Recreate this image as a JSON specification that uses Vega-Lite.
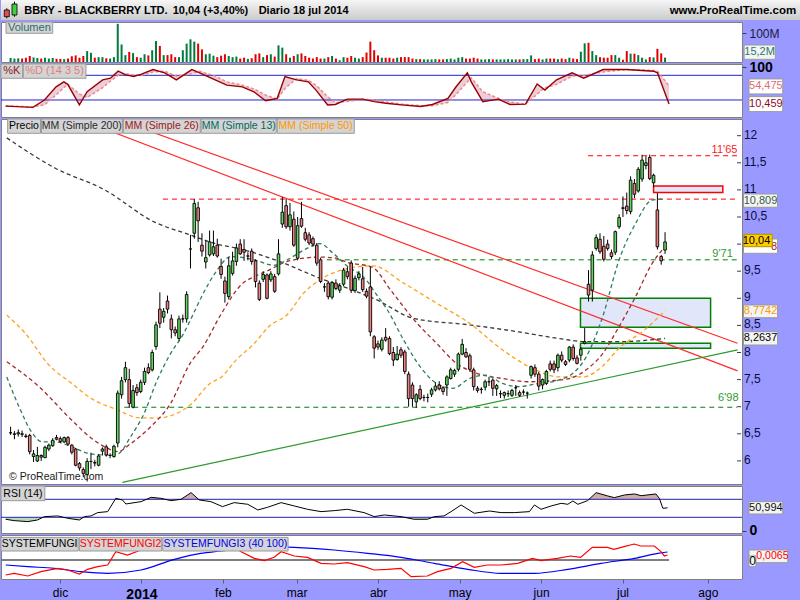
{
"$schema": "https://vega.github.io/schema/vega-lite/v6.json",
"background": "#9999ff",
"padding": 0,
"spacing": 2,
"bounds": "flush",
"config": {
 "font": "Liberation Sans",
 "view": {"fill": "#ffffff", "stroke": "#808080", "strokeWidth": 1},
 "axis": {"grid": false, "domain": false, "tickSize": 4, "tickColor": "#3a3a5a", "labelColor": "#0c0c3c", "labelFontSize": 12, "labelPadding": 3, "labelFlush": false, "labelOverlap": false}
},
"datasets": {
 "ohlc": [
{"i":1,"o":6.52,"h":6.63,"l":6.48,"c":6.52,"v":14},{"i":2,"o":6.49,"h":6.55,"l":6.40,"c":6.50,"v":12},{"i":3,"o":6.50,"h":6.58,"l":6.45,"c":6.52,"v":13},{"i":4,"o":6.50,"h":6.56,"l":6.44,"c":6.49,"v":12},{"i":5,"o":6.46,"h":6.50,"l":6.42,"c":6.45,"v":15},
{"i":6,"o":6.47,"h":6.50,"l":6.12,"c":6.17,"v":21},{"i":7,"o":6.08,"h":6.20,"l":5.98,"c":6.13,"v":16},{"i":8,"o":6.00,"h":6.26,"l":5.98,"c":6.10,"v":14},{"i":9,"o":6.10,"h":6.12,"l":6.00,"c":6.07,"v":12},{"i":10,"o":6.06,"h":6.28,"l":6.05,"c":6.25,"v":15},
{"i":11,"o":6.22,"h":6.32,"l":6.18,"c":6.29,"v":12},{"i":12,"o":6.28,"h":6.42,"l":6.26,"c":6.38,"v":14},{"i":13,"o":6.43,"h":6.48,"l":6.38,"c":6.40,"v":11},{"i":14,"o":6.41,"h":6.45,"l":6.33,"c":6.36,"v":11},{"i":15,"o":6.35,"h":6.45,"l":6.33,"c":6.43,"v":10},
{"i":16,"o":6.43,"h":6.46,"l":6.28,"c":6.31,"v":12},{"i":17,"o":6.29,"h":6.31,"l":6.12,"c":6.16,"v":20},{"i":18,"o":6.22,"h":6.24,"l":5.90,"c":5.92,"v":23},{"i":19,"o":5.95,"h":5.98,"l":5.82,"c":5.87,"v":15},{"i":20,"o":5.84,"h":5.88,"l":5.70,"c":5.77,"v":21},
{"i":21,"o":5.75,"h":6.05,"l":5.62,"c":5.99,"v":38},{"i":22,"o":5.99,"h":6.15,"l":5.85,"c":5.99,"v":32},{"i":23,"o":5.97,"h":6.02,"l":5.90,"c":5.96,"v":15},{"i":24,"o":5.92,"h":6.12,"l":5.90,"c":6.09,"v":17},{"i":25,"o":6.18,"h":6.25,"l":6.10,"c":6.22,"v":17},
{"i":26,"o":6.26,"h":6.30,"l":6.08,"c":6.11,"v":13},{"i":27,"o":6.10,"h":6.14,"l":6.05,"c":6.10,"v":12},{"i":28,"o":6.08,"h":6.30,"l":6.06,"c":6.27,"v":17},{"i":29,"o":6.33,"h":7.30,"l":6.25,"c":7.25,"v":133},{"i":30,"o":7.22,"h":7.55,"l":7.15,"c":7.48,"v":61},
{"i":31,"o":7.50,"h":7.83,"l":7.45,"c":7.72,"v":24},{"i":32,"o":7.50,"h":7.70,"l":6.98,"c":7.06,"v":35},{"i":33,"o":6.99,"h":7.40,"l":6.97,"c":7.30,"v":31},{"i":34,"o":7.35,"h":7.42,"l":7.20,"c":7.26,"v":17},{"i":35,"o":7.28,"h":7.50,"l":7.25,"c":7.45,"v":15},
{"i":36,"o":7.45,"h":7.72,"l":7.40,"c":7.65,"v":27},{"i":37,"o":7.72,"h":7.80,"l":7.60,"c":7.63,"v":23},{"i":38,"o":7.68,"h":8.05,"l":7.65,"c":8.00,"v":41},{"i":39,"o":8.11,"h":8.57,"l":8.05,"c":8.51,"v":73},{"i":40,"o":8.80,"h":9.11,"l":8.45,"c":8.54,"v":56},
{"i":41,"o":8.65,"h":8.82,"l":8.55,"c":8.76,"v":24},{"i":42,"o":8.95,"h":9.05,"l":8.72,"c":8.80,"v":24},{"i":43,"o":8.62,"h":8.70,"l":8.26,"c":8.42,"v":27},{"i":44,"o":8.42,"h":8.48,"l":8.30,"c":8.36,"v":17},{"i":45,"o":8.26,"h":8.68,"l":8.22,"c":8.62,"v":17},
{"i":46,"o":8.62,"h":8.70,"l":8.55,"c":8.62,"v":41},{"i":47,"o":8.62,"h":9.13,"l":8.55,"c":9.07,"v":64},{"i":48,"o":9.91,"h":10.17,"l":9.55,"c":9.91,"v":79},{"i":49,"o":10.20,"h":10.83,"l":10.10,"c":10.75,"v":71},{"i":50,"o":10.67,"h":10.78,"l":10.04,"c":10.43,"v":64},
{"i":51,"o":9.98,"h":10.20,"l":9.77,"c":9.87,"v":44},{"i":52,"o":9.67,"h":10.07,"l":9.55,"c":9.75,"v":27},{"i":53,"o":9.80,"h":10.25,"l":9.77,"c":10.04,"v":29},{"i":54,"o":9.82,"h":10.25,"l":9.78,"c":9.95,"v":22},{"i":55,"o":9.98,"h":10.10,"l":9.75,"c":9.78,"v":17},
{"i":56,"o":9.59,"h":9.73,"l":9.36,"c":9.44,"v":22},{"i":57,"o":9.32,"h":9.40,"l":8.92,"c":9.09,"v":27},{"i":58,"o":9.03,"h":9.76,"l":8.98,"c":9.60,"v":21},{"i":59,"o":9.46,"h":9.86,"l":9.42,"c":9.69,"v":17},{"i":60,"o":9.68,"h":10.01,"l":9.60,"c":9.93,"v":19},
{"i":61,"o":10.00,"h":10.09,"l":9.80,"c":9.82,"v":12},{"i":62,"o":9.90,"h":10.09,"l":9.69,"c":9.85,"v":15},{"i":63,"o":9.78,"h":9.85,"l":9.70,"c":9.78,"v":11},{"i":64,"o":9.87,"h":9.92,"l":9.62,"c":9.68,"v":13},{"i":65,"o":9.69,"h":9.72,"l":9.20,"c":9.31,"v":27},
{"i":66,"o":9.28,"h":9.33,"l":8.95,"c":8.98,"v":30},{"i":67,"o":9.35,"h":9.50,"l":9.30,"c":9.44,"v":17},{"i":68,"o":9.43,"h":9.46,"l":8.98,"c":9.00,"v":24},{"i":69,"o":9.34,"h":9.50,"l":9.30,"c":9.45,"v":27},{"i":70,"o":9.40,"h":9.45,"l":9.10,"c":9.13,"v":19},
{"i":71,"o":9.45,"h":10.09,"l":9.42,"c":9.82,"v":58},{"i":72,"o":10.37,"h":10.87,"l":10.30,"c":10.59,"v":50},{"i":73,"o":10.71,"h":10.83,"l":10.28,"c":10.32,"v":27},{"i":74,"o":10.32,"h":10.76,"l":10.25,"c":10.54,"v":15},{"i":75,"o":10.46,"h":10.60,"l":9.95,"c":9.98,"v":21},
{"i":76,"o":9.74,"h":10.50,"l":9.70,"c":10.34,"v":27},{"i":77,"o":10.47,"h":10.78,"l":10.30,"c":10.33,"v":30},{"i":78,"o":10.21,"h":10.30,"l":10.05,"c":10.09,"v":21},{"i":79,"o":10.17,"h":10.22,"l":9.98,"c":10.02,"v":15},{"i":80,"o":10.10,"h":10.14,"l":9.95,"c":10.00,"v":12},
{"i":81,"o":9.98,"h":10.02,"l":9.60,"c":9.65,"v":17},{"i":82,"o":9.71,"h":9.75,"l":9.28,"c":9.31,"v":12},{"i":83,"o":9.21,"h":9.28,"l":9.12,"c":9.21,"v":12},{"i":84,"o":9.28,"h":9.32,"l":8.98,"c":9.03,"v":17},{"i":85,"o":9.02,"h":9.32,"l":8.98,"c":9.29,"v":21},
{"i":86,"o":9.28,"h":9.35,"l":9.15,"c":9.18,"v":12},{"i":87,"o":9.15,"h":9.28,"l":9.10,"c":9.23,"v":6},{"i":88,"o":9.26,"h":9.56,"l":9.22,"c":9.52,"v":17},{"i":89,"o":9.49,"h":9.58,"l":9.35,"c":9.40,"v":15},{"i":90,"o":9.65,"h":9.70,"l":9.10,"c":9.15,"v":21},
{"i":91,"o":9.14,"h":9.42,"l":9.10,"c":9.37,"v":15},{"i":92,"o":9.38,"h":9.50,"l":9.33,"c":9.45,"v":12},{"i":93,"o":9.36,"h":9.58,"l":9.12,"c":9.16,"v":17},{"i":94,"o":9.13,"h":9.18,"l":9.00,"c":9.04,"v":33},{"i":95,"o":9.21,"h":9.58,"l":8.30,"c":8.38,"v":71},
{"i":96,"o":8.29,"h":8.32,"l":7.89,"c":8.08,"v":41},{"i":97,"o":8.16,"h":8.22,"l":8.05,"c":8.10,"v":23},{"i":98,"o":8.06,"h":8.28,"l":8.02,"c":8.23,"v":15},{"i":99,"o":8.28,"h":8.45,"l":8.20,"c":8.23,"v":15},{"i":100,"o":8.26,"h":8.30,"l":7.95,"c":7.98,"v":15},
{"i":101,"o":8.00,"h":8.10,"l":7.75,"c":7.86,"v":12},{"i":102,"o":7.87,"h":8.12,"l":7.85,"c":7.97,"v":15},{"i":103,"o":8.05,"h":8.10,"l":7.90,"c":7.95,"v":17},{"i":104,"o":8.01,"h":8.05,"l":7.60,"c":7.65,"v":17},{"i":105,"o":7.60,"h":7.65,"l":7.00,"c":7.15,"v":17},
{"i":106,"o":7.40,"h":7.45,"l":7.00,"c":7.15,"v":12},{"i":107,"o":7.09,"h":7.25,"l":6.98,"c":7.22,"v":10},{"i":108,"o":7.32,"h":7.40,"l":7.12,"c":7.15,"v":10},{"i":109,"o":7.17,"h":7.22,"l":7.10,"c":7.17,"v":9},{"i":110,"o":7.17,"h":7.24,"l":7.08,"c":7.17,"v":9},
{"i":111,"o":7.23,"h":7.35,"l":7.18,"c":7.31,"v":9},{"i":112,"o":7.31,"h":7.45,"l":7.28,"c":7.38,"v":10},{"i":113,"o":7.40,"h":7.47,"l":7.30,"c":7.33,"v":9},{"i":114,"o":7.35,"h":7.38,"l":7.22,"c":7.28,"v":9},{"i":115,"o":7.40,"h":7.58,"l":7.20,"c":7.55,"v":10},
{"i":116,"o":7.52,"h":7.72,"l":7.50,"c":7.68,"v":12},{"i":117,"o":7.60,"h":7.70,"l":7.55,"c":7.67,"v":9},{"i":118,"o":7.69,"h":8.00,"l":7.65,"c":7.97,"v":15},{"i":119,"o":7.97,"h":8.25,"l":7.95,"c":8.15,"v":17},{"i":120,"o":8.00,"h":8.08,"l":7.90,"c":7.92,"v":12},
{"i":121,"o":7.94,"h":7.98,"l":7.65,"c":7.69,"v":12},{"i":122,"o":7.68,"h":7.72,"l":7.30,"c":7.37,"v":15},{"i":123,"o":7.34,"h":7.38,"l":7.26,"c":7.30,"v":12},{"i":124,"o":7.32,"h":7.36,"l":7.24,"c":7.32,"v":9},{"i":125,"o":7.36,"h":7.50,"l":7.30,"c":7.46,"v":9},
{"i":126,"o":7.46,"h":7.55,"l":7.38,"c":7.46,"v":10},{"i":127,"o":7.49,"h":7.52,"l":7.20,"c":7.34,"v":9},{"i":128,"o":7.33,"h":7.42,"l":7.20,"c":7.39,"v":9},{"i":129,"o":7.24,"h":7.30,"l":7.16,"c":7.24,"v":9},{"i":130,"o":7.21,"h":7.28,"l":7.15,"c":7.26,"v":9},
{"i":131,"o":7.24,"h":7.30,"l":7.18,"c":7.24,"v":10},{"i":132,"o":7.21,"h":7.33,"l":7.18,"c":7.30,"v":9},{"i":133,"o":7.35,"h":7.40,"l":7.20,"c":7.35,"v":9},{"i":134,"o":7.26,"h":7.30,"l":7.18,"c":7.21,"v":9},{"i":135,"o":7.27,"h":7.32,"l":7.22,"c":7.27,"v":10},
{"i":136,"o":7.25,"h":7.28,"l":7.15,"c":7.25,"v":10},{"i":137,"o":7.58,"h":7.76,"l":7.52,"c":7.74,"v":23},{"i":138,"o":7.72,"h":7.78,"l":7.55,"c":7.60,"v":10},{"i":139,"o":7.60,"h":7.64,"l":7.30,"c":7.38,"v":12},{"i":140,"o":7.40,"h":7.52,"l":7.32,"c":7.50,"v":9},
{"i":141,"o":7.43,"h":7.68,"l":7.40,"c":7.65,"v":12},{"i":142,"o":7.79,"h":7.85,"l":7.65,"c":7.69,"v":12},{"i":143,"o":7.79,"h":7.85,"l":7.62,"c":7.68,"v":12},{"i":144,"o":7.72,"h":7.98,"l":7.65,"c":7.95,"v":10},{"i":145,"o":7.95,"h":8.02,"l":7.82,"c":7.86,"v":12},
{"i":146,"o":7.83,"h":7.86,"l":7.75,"c":7.78,"v":10},{"i":147,"o":7.86,"h":8.12,"l":7.82,"c":8.10,"v":15},{"i":148,"o":8.10,"h":8.15,"l":7.85,"c":7.89,"v":12},{"i":149,"o":7.90,"h":7.95,"l":7.78,"c":7.80,"v":10},{"i":150,"o":7.95,"h":8.10,"l":7.85,"c":8.06,"v":36},
{"i":151,"o":8.17,"h":8.45,"l":8.15,"c":8.20,"v":65},{"i":152,"o":9.26,"h":9.52,"l":8.94,"c":9.06,"v":67},{"i":153,"o":9.15,"h":9.87,"l":8.94,"c":9.80,"v":38},{"i":154,"o":9.92,"h":10.18,"l":9.88,"c":10.12,"v":24},{"i":155,"o":10.09,"h":10.20,"l":9.82,"c":9.86,"v":17},
{"i":156,"o":9.96,"h":10.15,"l":9.68,"c":9.72,"v":15},{"i":157,"o":10.00,"h":10.08,"l":9.88,"c":9.92,"v":15},{"i":158,"o":9.84,"h":9.90,"l":9.72,"c":9.77,"v":24},{"i":159,"o":9.85,"h":10.25,"l":9.80,"c":10.23,"v":24},{"i":160,"o":10.32,"h":10.55,"l":10.28,"c":10.49,"v":15},
{"i":161,"o":10.67,"h":10.88,"l":10.50,"c":10.66,"v":8},{"i":162,"o":10.70,"h":10.95,"l":10.55,"c":10.62,"v":38},{"i":163,"o":10.60,"h":11.25,"l":10.55,"c":11.18,"v":29},{"i":164,"o":11.12,"h":11.20,"l":10.85,"c":10.92,"v":29},{"i":165,"o":10.98,"h":11.42,"l":10.95,"c":11.38,"v":24},
{"i":166,"o":11.20,"h":11.65,"l":11.15,"c":11.55,"v":15},{"i":167,"o":11.45,"h":11.62,"l":11.38,"c":11.50,"v":9},{"i":168,"o":11.60,"h":11.65,"l":11.18,"c":11.21,"v":17},{"i":169,"o":11.13,"h":11.30,"l":11.05,"c":11.27,"v":16},{"i":170,"o":10.63,"h":10.94,"l":9.90,"c":9.95,"v":46},
{"i":171,"o":9.77,"h":9.80,"l":9.62,"c":9.69,"v":30},{"i":172,"o":9.89,"h":10.22,"l":9.82,"c":10.04,"v":15.2}
 ],
 "priceticks": [{"t":6,"label":"6"},{"t":6.5,"label":"6,5"},{"t":7,"label":"7"},{"t":7.5,"label":"7,5"},{"t":8,"label":"8"},{"t":8.5,"label":"8,5"},{"t":9,"label":"9"},{"t":9.5,"label":"9,5"},{"t":10,"label":""},{"t":10.5,"label":"10,5"},{"t":11,"label":"11"},{"t":11.5,"label":"11,5"},{"t":12,"label":"12"}],
 "ma200": [{"i":0,"v":11.96},{"i":12.7,"v":11.40},{"i":25.6,"v":11.00},{"i":38.5,"v":10.41},{"i":47.5,"v":10.18},{"i":56,"v":9.98},{"i":59.8,"v":9.93},{"i":71.2,"v":9.68},{"i":81.8,"v":9.37},{"i":90.4,"v":9.15},{"i":96.4,"v":8.98},{"i":106.3,"v":8.63},{"i":120.9,"v":8.51},{"i":133.8,"v":8.38},{"i":144.1,"v":8.26},{"i":151.3,"v":8.20},{"i":160,"v":8.20},{"i":172,"v":8.26}],
 "ma50": [{"i":0,"v":8.69},{"i":4.9,"v":8.35},{"i":11,"v":7.77},{"i":17,"v":7.43},{"i":22.1,"v":7.15},{"i":29,"v":6.94},{"i":34.2,"v":6.80},{"i":39.3,"v":6.79},{"i":44.5,"v":6.88},{"i":47.9,"v":7.03},{"i":53.1,"v":7.43},{"i":56.1,"v":7.55},{"i":59.9,"v":7.86},{"i":64.7,"v":8.17},{"i":68.5,"v":8.48},{"i":73.3,"v":8.70},{"i":77.5,"v":9.09},{"i":81.8,"v":9.34},{"i":86.1,"v":9.49},{"i":90.4,"v":9.57},{"i":95.6,"v":9.60},{"i":103.7,"v":9.28},{"i":112.3,"v":8.91},{"i":120.9,"v":8.54},{"i":129.5,"v":8.05},{"i":138.1,"v":7.68},{"i":144.1,"v":7.55},{"i":150.6,"v":7.55},{"i":155.7,"v":7.75},{"i":160,"v":8.08},{"i":166.5,"v":8.41},{"i":172,"v":8.77}],
 "ma26": [{"i":0,"v":7.83},{"i":8.4,"v":7.37},{"i":17,"v":6.75},{"i":22.1,"v":6.42},{"i":26.4,"v":6.23},{"i":29,"v":6.17},{"i":32.4,"v":6.32},{"i":37.6,"v":6.63},{"i":42.8,"v":7.06},{"i":47.9,"v":7.80},{"i":51.3,"v":8.11},{"i":56.1,"v":8.72},{"i":61.7,"v":9.28},{"i":64.7,"v":9.40},{"i":68.5,"v":9.52},{"i":73.3,"v":9.68},{"i":81.8,"v":9.76},{"i":86.1,"v":9.74},{"i":88.7,"v":9.67},{"i":95.6,"v":9.57},{"i":100.3,"v":9.15},{"i":107.2,"v":8.54},{"i":112.3,"v":8.17},{"i":117.5,"v":7.80},{"i":122.7,"v":7.62},{"i":129.5,"v":7.52},{"i":136.4,"v":7.46},{"i":144.1,"v":7.49},{"i":148,"v":7.54},{"i":151.4,"v":7.68},{"i":155.7,"v":7.98},{"i":160,"v":8.48},{"i":164.3,"v":9.03},{"i":168.6,"v":9.64},{"i":172,"v":9.95}],
 "ma13": [{"i":0,"v":7.55},{"i":3.2,"v":7.00},{"i":6.7,"v":6.51},{"i":9.3,"v":6.35},{"i":12.7,"v":6.35},{"i":17,"v":6.26},{"i":21.3,"v":6.14},{"i":25.6,"v":6.11},{"i":29,"v":6.13},{"i":32.4,"v":6.45},{"i":35.9,"v":6.88},{"i":39.3,"v":7.49},{"i":42.8,"v":7.98},{"i":46.2,"v":8.35},{"i":48.8,"v":8.72},{"i":50.9,"v":9.03},{"i":54.4,"v":9.46},{"i":58.6,"v":9.77},{"i":64.7,"v":9.71},{"i":69.8,"v":9.61},{"i":73.3,"v":9.71},{"i":77.6,"v":9.89},{"i":81.8,"v":10.01},{"i":85.3,"v":9.83},{"i":88.7,"v":9.61},{"i":93.9,"v":9.34},{"i":96.4,"v":9.09},{"i":99.5,"v":8.78},{"i":103.7,"v":8.23},{"i":108,"v":7.74},{"i":112.3,"v":7.43},{"i":116.6,"v":7.34},{"i":120.9,"v":7.52},{"i":125.2,"v":7.58},{"i":129.5,"v":7.43},{"i":133.8,"v":7.37},{"i":138.1,"v":7.42},{"i":144.1,"v":7.49},{"i":148,"v":7.62},{"i":151.4,"v":7.92},{"i":155.7,"v":8.66},{"i":160,"v":9.71},{"i":164.3,"v":10.38},{"i":168.6,"v":10.81},{"i":172,"v":10.83}],
 "trend": [{"line":"A","kind":"res","i":18.8,"p":12.308},{"line":"A","kind":"res","i":190.95,"p":7.66},{"line":"B","kind":"res","i":28.5,"p":12.308},{"line":"B","kind":"res","i":190.95,"p":8.17},{"line":"C","kind":"sup","i":30.2,"p":5.605},{"line":"C","kind":"sup","i":190.95,"p":8.05}],
 "levels": [{"level":10.83,"from":40.8,"kind":"res"},{"level":11.63,"from":151.9,"kind":"res"},{"level":9.71,"from":83.6,"kind":"sup"},{"level":6.99,"from":30.7,"kind":"sup"}],
 "zones": [{"from":169.0,"to":187.1,"low":10.95,"high":11.07,"kind":"res"},{"from":149.9,"to":183.9,"low":8.465,"high":9.0,"kind":"sup"},{"from":149.9,"to":183.9,"low":8.08,"high":8.17,"kind":"sup"}],
 "stoch": [{"i":1,"k":5,"d":6},{"i":8,"k":2,"d":3},{"i":11,"k":20,"d":8},{"i":14,"k":52,"d":32},{"i":16,"k":64,"d":50},{"i":17,"k":58,"d":58},{"i":20,"k":8,"d":35},{"i":22,"k":40,"d":26},{"i":26,"k":69,"d":50},{"i":28,"k":73,"d":66},{"i":30,"k":90,"d":80},{"i":32,"k":81,"d":84},{"i":34,"k":77,"d":80},{"i":36,"k":83,"d":80},{"i":39,"k":94,"d":88},{"i":42,"k":86,"d":90},{"i":45,"k":69,"d":78},{"i":49,"k":94,"d":84},{"i":51,"k":86,"d":90},{"i":55,"k":69,"d":78},{"i":58,"k":56,"d":64},{"i":62,"k":52,"d":56},{"i":65,"k":40,"d":47},{"i":68,"k":18,"d":32},{"i":71,"k":24,"d":22},{"i":73,"k":77,"d":48},{"i":76,"k":69,"d":72},{"i":79,"k":64,"d":68},{"i":81,"k":44,"d":56},{"i":84,"k":8,"d":28},{"i":86,"k":9,"d":14},{"i":89,"k":22,"d":16},{"i":93,"k":22,"d":22},{"i":96,"k":16,"d":20},{"i":99,"k":12,"d":15},{"i":103,"k":8,"d":10},{"i":108,"k":4,"d":6},{"i":111,"k":9,"d":6},{"i":115,"k":24,"d":14},{"i":117,"k":51,"d":32},{"i":120,"k":86,"d":64},{"i":121,"k":64,"d":74},{"i":124,"k":16,"d":40},{"i":128,"k":22,"d":24},{"i":131,"k":9,"d":15},{"i":135,"k":10,"d":10},{"i":138,"k":59,"d":34},{"i":140,"k":44,"d":50},{"i":143,"k":69,"d":58},{"i":147,"k":86,"d":78},{"i":150,"k":73,"d":80},{"i":155,"k":94,"d":88},{"i":161,"k":94,"d":94},{"i":168,"k":90,"d":92},{"i":169,"k":86,"d":90},{"i":172,"k":10.5,"d":54.5}],
 "rsi": [{"i":1,"v":25.6},{"i":3.2,"v":22.6},{"i":6.7,"v":20.4},{"i":9.2,"v":24},{"i":11,"v":31.5},{"i":14.4,"v":33},{"i":17,"v":27.8},{"i":20,"v":24},{"i":21.3,"v":31.5},{"i":23,"v":33},{"i":24.7,"v":40.4},{"i":27.3,"v":42.6},{"i":29.4,"v":72.2},{"i":31.1,"v":68.5},{"i":32,"v":59.6},{"i":35.9,"v":64.8},{"i":38.5,"v":74.4},{"i":41,"v":72.2},{"i":43.6,"v":67},{"i":46.2,"v":70},{"i":48.8,"v":84.8},{"i":50.9,"v":68.5},{"i":53.9,"v":64.8},{"i":56.9,"v":53.7},{"i":59.9,"v":62.6},{"i":63.4,"v":58.9},{"i":66,"v":46.3},{"i":68.5,"v":52.2},{"i":72,"v":62.6},{"i":75.4,"v":55.2},{"i":78.8,"v":47.8},{"i":82.3,"v":42.6},{"i":85.7,"v":44.8},{"i":89.1,"v":47.8},{"i":93.4,"v":40.4},{"i":96,"v":31.5},{"i":98.6,"v":35.2},{"i":102.9,"v":31.5},{"i":106.3,"v":25.6},{"i":109.7,"v":25.6},{"i":111.5,"v":31.5},{"i":114,"v":33},{"i":115.8,"v":42.6},{"i":118.4,"v":57.4},{"i":121.8,"v":38.9},{"i":125.7,"v":44},{"i":128.7,"v":40.4},{"i":132.1,"v":40.4},{"i":136,"v":42.6},{"i":137.3,"v":57.4},{"i":139,"v":47.8},{"i":141.6,"v":55.2},{"i":144.2,"v":61.1},{"i":145.9,"v":58.9},{"i":147.2,"v":66.3},{"i":148.5,"v":58.9},{"i":151,"v":67},{"i":153.2,"v":84.8},{"i":156.2,"v":77.4},{"i":157.9,"v":73.7},{"i":160.5,"v":79.6},{"i":163.1,"v":81.9},{"i":164.8,"v":78},{"i":168.6,"v":81.9},{"i":169.5,"v":72.2},{"i":170.4,"v":50},{"i":171.6,"v":51}],
 "rsi_ob": [{"seg":"A","i":29.24,"v":70},{"seg":"A","i":29.4,"v":72.2},{"seg":"A","i":30.4,"v":70},{"seg":"B","i":37.3,"v":70},{"seg":"B","i":38.5,"v":74.4},{"seg":"B","i":41,"v":72.2},{"seg":"B","i":42.1,"v":70},{"seg":"C","i":46.2,"v":70},{"seg":"C","i":48.8,"v":84.8},{"seg":"C","i":50.7,"v":70},{"seg":"D","i":151.37,"v":70},{"seg":"D","i":153.2,"v":84.8},{"seg":"D","i":156.2,"v":77.4},{"seg":"D","i":157.9,"v":73.7},{"seg":"D","i":160.5,"v":79.6},{"seg":"D","i":163.1,"v":81.9},{"seg":"D","i":164.8,"v":78},{"seg":"D","i":168.6,"v":81.9},{"seg":"D","i":169.5,"v":72.2},{"seg":"D","i":169.59,"v":70}],
 "rsi_os": [{"seg":"a","i":1,"v":25.6},{"seg":"a","i":3.2,"v":22.6},{"seg":"a","i":6.7,"v":20.4},{"seg":"a","i":9.2,"v":24},{"seg":"a","i":10.64,"v":30},{"seg":"b","i":15.9,"v":30},{"seg":"b","i":17,"v":27.8},{"seg":"b","i":20,"v":24},{"seg":"b","i":21.0,"v":30},{"seg":"c","i":103.76,"v":30},{"seg":"c","i":106.3,"v":25.6},{"seg":"c","i":109.7,"v":25.6},{"seg":"c","i":111.04,"v":30}],
 "fungi_red": [{"i":1,"v":-0.45},{"i":3.2,"v":-0.40},{"i":6.7,"v":-0.48},{"i":10.1,"v":-0.35},{"i":14.4,"v":-0.25},{"i":17,"v":-0.30},{"i":20,"v":-0.42},{"i":22.1,"v":-0.28},{"i":24.7,"v":-0.20},{"i":27.3,"v":-0.15},{"i":29.4,"v":0.25},{"i":32.4,"v":0.15},{"i":35.9,"v":0.30},{"i":39.3,"v":0.40},{"i":44.5,"v":0.50},{"i":49.6,"v":0.55},{"i":54.8,"v":0.45},{"i":59.9,"v":0.38},{"i":61.7,"v":0.25},{"i":65.1,"v":0.05},{"i":67.7,"v":-0.02},{"i":70.2,"v":0.08},{"i":72,"v":0.25},{"i":75.4,"v":0.12},{"i":78.8,"v":0.08},{"i":82.3,"v":-0.10},{"i":85.7,"v":-0.12},{"i":89.1,"v":-0.08},{"i":93.4,"v":-0.20},{"i":96,"v":-0.30},{"i":99.4,"v":-0.28},{"i":102.9,"v":-0.25},{"i":105.5,"v":-0.50},{"i":109.7,"v":-0.48},{"i":112.3,"v":-0.35},{"i":115.8,"v":-0.25},{"i":118.8,"v":-0.05},{"i":121.8,"v":-0.22},{"i":125.2,"v":-0.15},{"i":128.7,"v":-0.15},{"i":133,"v":-0.10},{"i":136.8,"v":0.05},{"i":139,"v":-0.02},{"i":143.2,"v":0.05},{"i":146.6,"v":0.12},{"i":149.2,"v":0.08},{"i":152.2,"v":0.38},{"i":156.1,"v":0.38},{"i":157.8,"v":0.32},{"i":160.4,"v":0.40},{"i":163,"v":0.48},{"i":164.7,"v":0.42},{"i":168.2,"v":0.42},{"i":169.9,"v":0.25},{"i":170.8,"v":0.12},{"i":171.6,"v":0.15}],
 "fungi_blue": [{"i":1,"v":-0.15},{"i":6.7,"v":-0.20},{"i":13.5,"v":-0.25},{"i":20.4,"v":-0.35},{"i":27.3,"v":-0.40},{"i":35.9,"v":-0.30},{"i":44.5,"v":0.02},{"i":51.3,"v":0.20},{"i":56.5,"v":0.27},{"i":61.7,"v":0.35},{"i":67.7,"v":0.40},{"i":75.4,"v":0.38},{"i":85.7,"v":0.30},{"i":94.3,"v":0.20},{"i":102.9,"v":0.08},{"i":111.5,"v":-0.10},{"i":120.1,"v":-0.28},{"i":128.7,"v":-0.40},{"i":137.3,"v":-0.40},{"i":145.9,"v":-0.28},{"i":154.5,"v":-0.10},{"i":163.1,"v":0.05},{"i":169.1,"v":0.20},{"i":171.6,"v":0.24}]
},
"vconcat": [
 {
  "width": 800, "height": 20,
  "view": {"stroke": null},
  "layer": [
   {"data": {"values": [{}]}, "mark": {"type": "rect", "fill": {"gradient": "linear", "x1": 0, "y1": 0, "x2": 0, "y2": 1, "stops": [{"offset": 0, "color": "#f6f6f6"}, {"offset": 1, "color": "#cbcbcb"}]}},
    "encoding": {"x": {"datum": 0, "type": "quantitative", "scale": {"domain": [0, 1], "nice": false, "zero": false}, "axis": null}, "x2": {"datum": 1}, "y": {"datum": 0, "type": "quantitative", "scale": {"domain": [0, 1], "nice": false, "zero": false}, "axis": null}, "y2": {"datum": 1}}},
   {"data": {"values": [{}]}, "mark": {"type": "rule", "stroke": "#000", "strokeWidth": 1}, "encoding": {"x": {"datum": 0.00725, "axis": null}, "y": {"datum": 0.585, "axis": null}, "y2": {"datum": 0.085}}},
   {"data": {"values": [{}]}, "mark": {"type": "rect", "fill": "#e05050", "stroke": "#000", "strokeWidth": 0.8}, "encoding": {"x": {"datum": 0.0041, "axis": null}, "x2": {"datum": 0.0104}, "y": {"datum": 0.5, "axis": null}, "y2": {"datum": 0.165}}},
   {"data": {"values": [{}]}, "mark": {"type": "rule", "stroke": "#000", "strokeWidth": 1}, "encoding": {"x": {"datum": 0.016875, "axis": null}, "y": {"datum": 0.915, "axis": null}, "y2": {"datum": 0.165}}},
   {"data": {"values": [{}]}, "mark": {"type": "rect", "fill": "#40d040", "stroke": "#000", "strokeWidth": 0.8}, "encoding": {"x": {"datum": 0.01375, "axis": null}, "x2": {"datum": 0.02}, "y": {"datum": 0.8, "axis": null}, "y2": {"datum": 0.25}}},
   {"data": {"values": [{}]}, "mark": {"type": "text", "align": "left", "baseline": "middle", "fontWeight": "bold", "fontSize": 11, "color": "#000"}, "encoding": {"x": {"datum": 0.029, "axis": null}, "y": {"datum": 0.45, "axis": null}, "text": {"value": "BBRY - BLACKBERRY LTD."}}},
   {"data": {"values": [{}]}, "mark": {"type": "text", "align": "left", "baseline": "middle", "fontWeight": "bold", "fontSize": 11, "color": "#000"}, "encoding": {"x": {"datum": 0.2146, "axis": null}, "y": {"datum": 0.45, "axis": null}, "text": {"value": "10,04 (+3,40%)"}}},
   {"data": {"values": [{}]}, "mark": {"type": "text", "align": "left", "baseline": "middle", "fontWeight": "bold", "fontSize": 11, "color": "#000"}, "encoding": {"x": {"datum": 0.3221, "axis": null}, "y": {"datum": 0.45, "axis": null}, "text": {"value": "Diario  18 jul 2014"}}},
   {"data": {"values": [{}]}, "mark": {"type": "text", "align": "right", "baseline": "middle", "fontWeight": "bold", "fontSize": 11.5, "color": "#000"}, "encoding": {"x": {"datum": 0.994, "axis": null}, "y": {"datum": 0.45, "axis": null}, "text": {"value": "www.ProRealTime.com"}}}
  ]
 },
 {
  "width": 741, "height": 40,
  "layer": [
   {"data": {"name": "ohlc"}, "mark": {"type": "bar", "size": 2, "clip": true},
    "encoding": {
     "x": {"field": "i", "type": "quantitative", "scale": {"domain": [-0.2, 190.8], "nice": false, "zero": false}, "axis": null},
     "y": {"field": "v", "type": "quantitative", "scale": {"domain": [0, 139.4], "nice": false, "zero": false}, "axis": {"orient": "right", "values": [100], "labelExpr": "'100M'", "title": null, "labelColor": "#1a1a3a"}},
     "y2": {"datum": 0},
     "color": {"condition": {"test": "datum.c >= datum.o", "value": "#007a3d"}, "value": "#e00000"}}},
   {"data": {"values": [{}]}, "mark": {"type": "rect", "fill": "#d4d4d4", "stroke": "#9a9a9a"}, "encoding": {"x": {"datum": -0.2, "axis": null}, "x2": {"datum": 12.0}, "y": {"datum": 139.4, "axis": {"title": null}}, "y2": {"datum": 100}}},
   {"data": {"values": [{}]}, "mark": {"type": "text", "fontSize": 11, "color": "#2a6b6b", "baseline": "middle"}, "encoding": {"x": {"datum": 5.9, "axis": null}, "y": {"datum": 119, "axis": {"title": null}}, "text": {"value": "Volumen"}}},
   {"data": {"values": [{}]}, "mark": {"type": "rect", "fill": "#f4f4f4", "stroke": "#9a9a9a"}, "encoding": {"x": {"datum": 192.66, "axis": null}, "x2": {"datum": 200.8}, "y": {"datum": 59.2, "axis": {"title": null}}, "y2": {"datum": 9.4}}},
   {"data": {"values": [{}]}, "mark": {"type": "text", "fontSize": 11, "color": "#2a7a6a", "baseline": "middle"}, "encoding": {"x": {"datum": 196.7, "axis": null}, "y": {"datum": 34.3, "axis": {"title": null}}, "text": {"value": "15,2M"}}}
  ]
 },
 {
  "width": 741, "height": 53,
  "layer": [
   {"data": {"name": "stoch"}, "mark": {"type": "area", "fill": "#e6bccd", "opacity": 0.75},
    "encoding": {
     "x": {"field": "i", "type": "quantitative", "scale": {"domain": [-0.2, 190.8], "nice": false, "zero": false}, "axis": null},
     "y": {"field": "k", "type": "quantitative", "scale": {"domain": [-21.4, 107.5], "nice": false, "zero": false}, "axis": {"orient": "right", "values": [100], "title": null, "labelFontWeight": "bold", "labelFontSize": 14, "labelColor": "#000000"}},
     "y2": {"field": "d"}}},
   {"data": {"values": [{"lvl": 80}, {"lvl": 20}]}, "mark": {"type": "rule", "stroke": "#2222cc", "strokeWidth": 1}, "encoding": {"y": {"field": "lvl", "type": "quantitative", "axis": {"title": null}}}},
   {"data": {"name": "stoch"}, "mark": {"type": "line", "stroke": "#f08a8a", "strokeWidth": 1.5, "strokeDash": [3, 2]}, "encoding": {"x": {"field": "i", "type": "quantitative", "axis": null}, "y": {"field": "d", "type": "quantitative", "axis": {"title": null}}}},
   {"data": {"name": "stoch"}, "mark": {"type": "line", "stroke": "#990000", "strokeWidth": 1.4}, "encoding": {"x": {"field": "i", "type": "quantitative", "axis": null}, "y": {"field": "k", "type": "quantitative", "axis": {"title": null}}}},
   {"data": {"values": [{}]}, "mark": {"type": "rect", "fill": "#d4d4d4", "stroke": "#9a9a9a"}, "encoding": {"x": {"datum": -0.2, "axis": null}, "x2": {"datum": 5.39}, "y": {"datum": 107.5, "axis": {"title": null}}, "y2": {"datum": 72.8}}},
   {"data": {"values": [{}]}, "mark": {"type": "rect", "fill": "#d4d4d4", "stroke": "#9a9a9a"}, "encoding": {"x": {"datum": 5.54, "axis": null}, "x2": {"datum": 21.7}, "y": {"datum": 107.5, "axis": {"title": null}}, "y2": {"datum": 72.8}}},
   {"data": {"values": [{}]}, "mark": {"type": "text", "fontSize": 11, "color": "#8b1a1a", "baseline": "middle"}, "encoding": {"x": {"datum": 2.6, "axis": null}, "y": {"datum": 90, "axis": {"title": null}}, "text": {"value": "%K"}}},
   {"data": {"values": [{}]}, "mark": {"type": "text", "fontSize": 11, "color": "#e07f7f", "baseline": "middle"}, "encoding": {"x": {"datum": 13.6, "axis": null}, "y": {"datum": 90, "axis": {"title": null}}, "text": {"value": "%D (14 3 5)"}}},
   {"data": {"values": [{}]}, "mark": {"type": "rect", "fill": "#ffffff", "stroke": "#9a9a9a"}, "encoding": {"x": {"datum": 192.6, "axis": null}, "x2": {"datum": 201.3}, "y": {"datum": 71.1, "axis": {"title": null}}, "y2": {"datum": 34.7}}},
   {"data": {"values": [{}]}, "mark": {"type": "text", "fontSize": 11, "color": "#e06c6c", "baseline": "middle"}, "encoding": {"x": {"datum": 196.95, "axis": null}, "y": {"datum": 52.9, "axis": {"title": null}}, "text": {"value": "54,475"}}},
   {"data": {"values": [{}]}, "mark": {"type": "rect", "fill": "#ffffff", "stroke": "#9a9a9a"}, "encoding": {"x": {"datum": 192.6, "axis": null}, "x2": {"datum": 201.3}, "y": {"datum": 28.1, "axis": {"title": null}}, "y2": {"datum": -8.3}}},
   {"data": {"values": [{}]}, "mark": {"type": "text", "fontSize": 11, "color": "#8b0a2a", "baseline": "middle"}, "encoding": {"x": {"datum": 196.95, "axis": null}, "y": {"datum": 9.9, "axis": {"title": null}}, "text": {"value": "10,459"}}}
  ]
 },
 {
  "width": 741, "height": 365,
  "layer": [
   {"data": {"name": "levels"}, "mark": {"type": "rule", "strokeDash": [5, 4], "strokeWidth": 1},
    "encoding": {
     "x": {"field": "from", "type": "quantitative", "scale": {"domain": [-0.2, 190.8], "nice": false, "zero": false}, "axis": null},
     "x2": {"datum": 190.8},
     "y": {"field": "level", "type": "quantitative", "scale": {"domain": [5.574, 12.308], "nice": false, "zero": false}, "axis": null},
     "stroke": {"condition": {"test": "datum.kind == 'res'", "value": "#ff0000"}, "value": "#008000"}}},
   {"data": {"name": "zones"}, "mark": {"type": "rect", "fill": "#e2e6fa", "strokeWidth": 1.5},
    "encoding": {"x": {"field": "from", "type": "quantitative", "axis": null}, "x2": {"field": "to"}, "y": {"field": "low", "type": "quantitative", "axis": null}, "y2": {"field": "high"},
     "stroke": {"condition": {"test": "datum.kind == 'res'", "value": "#ff0000"}, "value": "#008000"}}},
   {"data": {"name": "trend"}, "mark": {"type": "line", "strokeWidth": 1.2, "clip": true},
    "encoding": {"x": {"field": "i", "type": "quantitative", "axis": null}, "y": {"field": "p", "type": "quantitative", "axis": null}, "detail": {"field": "line", "type": "nominal"},
     "stroke": {"condition": {"test": "datum.kind == 'res'", "value": "#ff2a2a"}, "value": "#2e9a2e"}}},
   {"data": {"name": "ma200"}, "mark": {"type": "line", "stroke": "#3a3a3a", "strokeDash": [4, 3], "strokeWidth": 1.3, "interpolate": "monotone", "clip": true}, "encoding": {"x": {"field": "i", "type": "quantitative", "axis": null}, "y": {"field": "v", "type": "quantitative", "axis": null}}},
   {"data": {"name": "ma50"}, "mark": {"type": "line", "stroke": "#ffa020", "strokeDash": [4, 3], "strokeWidth": 1.3, "interpolate": "monotone", "clip": true}, "encoding": {"x": {"field": "i", "type": "quantitative", "axis": null}, "y": {"field": "v", "type": "quantitative", "axis": null}}},
   {"data": {"name": "ma26"}, "mark": {"type": "line", "stroke": "#a52a2a", "strokeDash": [4, 3], "strokeWidth": 1.3, "interpolate": "monotone", "clip": true}, "encoding": {"x": {"field": "i", "type": "quantitative", "axis": null}, "y": {"field": "v", "type": "quantitative", "axis": null}}},
   {"data": {"name": "ma13"}, "mark": {"type": "line", "stroke": "#2e7d5e", "strokeDash": [4, 3], "strokeWidth": 1.3, "interpolate": "monotone", "clip": true}, "encoding": {"x": {"field": "i", "type": "quantitative", "axis": null}, "y": {"field": "v", "type": "quantitative", "axis": null}}},
   {"data": {"name": "ohlc"}, "mark": {"type": "rule", "stroke": "#000000", "strokeWidth": 1}, "encoding": {"x": {"field": "i", "type": "quantitative", "axis": null}, "y": {"field": "l", "type": "quantitative", "axis": null}, "y2": {"field": "h"}}},
   {"data": {"name": "ohlc"}, "mark": {"type": "bar", "size": 2.6, "stroke": "#000000", "strokeWidth": 0.9},
    "encoding": {"x": {"field": "i", "type": "quantitative", "axis": null}, "y": {"field": "o", "type": "quantitative", "axis": null}, "y2": {"field": "c"},
     "fill": {"condition": {"test": "datum.c >= datum.o", "value": "#5fd85f"}, "value": "#f08080"}}},
   {"data": {"name": "priceticks"}, "mark": {"type": "rule", "stroke": "#3a3a5a", "strokeWidth": 1}, "encoding": {"x": {"datum": 190.8, "axis": null}, "x2": {"datum": 191.85}, "y": {"field": "t", "type": "quantitative", "axis": null}}},
   {"data": {"name": "priceticks"}, "mark": {"type": "text", "align": "left", "baseline": "middle", "fontSize": 12, "color": "#0c0c3c", "dy": -1}, "encoding": {"x": {"datum": 192.6, "axis": null}, "y": {"field": "t", "type": "quantitative", "axis": null}, "text": {"field": "label"}}},
   {"data": {"values": [{}]}, "mark": {"type": "rect", "fill": "#d4d4d4", "stroke": "#9a9a9a"}, "encoding": {"x": {"datum": 0.23, "axis": null}, "x2": {"datum": 8.81}, "y": {"datum": 12.308, "axis": null}, "y2": {"datum": 12.044}}},
   {"data": {"values": [{}]}, "mark": {"type": "rect", "fill": "#d4d4d4", "stroke": "#9a9a9a"}, "encoding": {"x": {"datum": 9.07, "axis": null}, "x2": {"datum": 30.2}, "y": {"datum": 12.308, "axis": null}, "y2": {"datum": 12.044}}},
   {"data": {"values": [{}]}, "mark": {"type": "rect", "fill": "#d4d4d4", "stroke": "#9a9a9a"}, "encoding": {"x": {"datum": 30.46, "axis": null}, "x2": {"datum": 50.57}, "y": {"datum": 12.308, "axis": null}, "y2": {"datum": 12.044}}},
   {"data": {"values": [{}]}, "mark": {"type": "rect", "fill": "#d4d4d4", "stroke": "#9a9a9a"}, "encoding": {"x": {"datum": 50.8, "axis": null}, "x2": {"datum": 70.4}, "y": {"datum": 12.308, "axis": null}, "y2": {"datum": 12.044}}},
   {"data": {"values": [{}]}, "mark": {"type": "rect", "fill": "#d4d4d4", "stroke": "#9a9a9a"}, "encoding": {"x": {"datum": 70.67, "axis": null}, "x2": {"datum": 90.8}, "y": {"datum": 12.308, "axis": null}, "y2": {"datum": 12.044}}},
   {"data": {"values": [{}]}, "mark": {"type": "text", "fontSize": 10.5, "color": "#000000", "baseline": "middle"}, "encoding": {"x": {"datum": 4.5, "axis": null}, "y": {"datum": 12.176, "axis": null}, "text": {"value": "Precio"}}},
   {"data": {"values": [{}]}, "mark": {"type": "text", "fontSize": 10.5, "color": "#2b2b2b", "baseline": "middle"}, "encoding": {"x": {"datum": 19.6, "axis": null}, "y": {"datum": 12.176, "axis": null}, "text": {"value": "MM (Simple 200)"}}},
   {"data": {"values": [{}]}, "mark": {"type": "text", "fontSize": 10.5, "color": "#a01818", "baseline": "middle"}, "encoding": {"x": {"datum": 40.5, "axis": null}, "y": {"datum": 12.176, "axis": null}, "text": {"value": "MM (Simple 26)"}}},
   {"data": {"values": [{}]}, "mark": {"type": "text", "fontSize": 10.5, "color": "#00695c", "baseline": "middle"}, "encoding": {"x": {"datum": 60.6, "axis": null}, "y": {"datum": 12.176, "axis": null}, "text": {"value": "MM (Simple 13)"}}},
   {"data": {"values": [{}]}, "mark": {"type": "text", "fontSize": 10.5, "color": "#ff9900", "baseline": "middle"}, "encoding": {"x": {"datum": 80.7, "axis": null}, "y": {"datum": 12.176, "axis": null}, "text": {"value": "MM (Simple 50)"}}},
   {"data": {"values": [{}]}, "mark": {"type": "text", "fontSize": 10.5, "color": "#1a1a1a", "align": "left", "baseline": "middle"}, "encoding": {"x": {"datum": 0.6, "axis": null}, "y": {"datum": 5.70, "axis": null}, "text": {"value": "© ProRealTime.com"}}},
   {"data": {"values": [{}]}, "mark": {"type": "text", "fontSize": 11, "color": "#ff2020", "align": "right", "baseline": "middle"}, "encoding": {"x": {"datum": 190.9, "axis": null}, "y": {"datum": 11.745, "axis": null}, "text": {"value": "11'65"}}},
   {"data": {"values": [{}]}, "mark": {"type": "text", "fontSize": 11, "color": "#2e9a2e", "align": "right", "baseline": "middle"}, "encoding": {"x": {"datum": 189.7, "axis": null}, "y": {"datum": 9.82, "axis": null}, "text": {"value": "9'71"}}},
   {"data": {"values": [{}]}, "mark": {"type": "text", "fontSize": 11, "color": "#2e9a2e", "align": "right", "baseline": "middle"}, "encoding": {"x": {"datum": 191.2, "axis": null}, "y": {"datum": 7.16, "axis": null}, "text": {"value": "6'98"}}},
   {"data": {"values": [{}]}, "mark": {"type": "rect", "fill": "#f4f4f4", "stroke": "#9a9a9a"}, "encoding": {"x": {"datum": 192.5, "axis": null}, "x2": {"datum": 201.4}, "y": {"datum": 10.924, "axis": null}, "y2": {"datum": 10.679}}},
   {"data": {"values": [{}]}, "mark": {"type": "text", "fontSize": 11, "color": "#3b5b4b", "baseline": "middle"}, "encoding": {"x": {"datum": 196.95, "axis": null}, "y": {"datum": 10.79, "axis": null}, "text": {"value": "10,809"}}},
   {"data": {"values": [{}]}, "mark": {"type": "rect", "fill": "#ffffff", "stroke": "#9a9a9a"}, "encoding": {"x": {"datum": 192.5, "axis": null}, "x2": {"datum": 201.4}, "y": {"datum": 10.094, "axis": null}, "y2": {"datum": 9.83}}},
   {"data": {"values": [{}]}, "mark": {"type": "text", "fontSize": 10.5, "color": "#a01818", "align": "right", "baseline": "middle"}, "encoding": {"x": {"datum": 201.25, "axis": null}, "y": {"datum": 9.94, "axis": null}, "text": {"value": "8"}}},
   {"data": {"values": [{}]}, "mark": {"type": "rect", "fill": "#ffcc00", "stroke": "#b09000"}, "encoding": {"x": {"datum": 192.66, "axis": null}, "x2": {"datum": 200.0}, "y": {"datum": 10.181, "axis": null}, "y2": {"datum": 9.952}}},
   {"data": {"values": [{}]}, "mark": {"type": "text", "fontSize": 11, "color": "#000000", "baseline": "middle"}, "encoding": {"x": {"datum": 195.9, "axis": null}, "y": {"datum": 10.066, "axis": null}, "text": {"value": "10,04"}}},
   {"data": {"values": [{}]}, "mark": {"type": "rect", "fill": "#f4f4f4", "stroke": "#9a9a9a"}, "encoding": {"x": {"datum": 192.5, "axis": null}, "x2": {"datum": 201.4}, "y": {"datum": 8.876, "axis": null}, "y2": {"datum": 8.642}}},
   {"data": {"values": [{}]}, "mark": {"type": "text", "fontSize": 11, "color": "#ff9900", "baseline": "middle"}, "encoding": {"x": {"datum": 196.95, "axis": null}, "y": {"datum": 8.759, "axis": null}, "text": {"value": "8,7742"}}},
   {"data": {"values": [{}]}, "mark": {"type": "rect", "fill": "#f4f4f4", "stroke": "#9a9a9a"}, "encoding": {"x": {"datum": 192.5, "axis": null}, "x2": {"datum": 201.4}, "y": {"datum": 8.384, "axis": null}, "y2": {"datum": 8.138}}},
   {"data": {"values": [{}]}, "mark": {"type": "text", "fontSize": 11, "color": "#000000", "baseline": "middle"}, "encoding": {"x": {"datum": 196.95, "axis": null}, "y": {"datum": 8.261, "axis": null}, "text": {"value": "8,2637"}}}
  ]
 },
 {
  "width": 741, "height": 47,
  "layer": [
   {"data": {"name": "rsi_ob"}, "mark": {"type": "area", "fill": "#c9a3a3", "opacity": 0.9},
    "encoding": {
     "x": {"field": "i", "type": "quantitative", "scale": {"domain": [-0.2, 190.8], "nice": false, "zero": false}, "axis": null},
     "y": {"field": "v", "type": "quantitative", "scale": {"domain": [-4.9, 99.56], "nice": false, "zero": false}, "axis": {"orient": "right", "values": [0], "title": null, "labelFontWeight": "bold", "labelFontSize": 14, "labelColor": "#000000"}},
     "y2": {"datum": 70}, "detail": {"field": "seg", "type": "nominal"}}},
   {"data": {"name": "rsi_os"}, "mark": {"type": "area", "fill": "#b5d6b5", "opacity": 0.9},
    "encoding": {"x": {"field": "i", "type": "quantitative", "axis": null}, "y": {"field": "v", "type": "quantitative", "axis": {"title": null}}, "y2": {"datum": 30}, "detail": {"field": "seg", "type": "nominal"}}},
   {"data": {"values": [{"lvl": 70}, {"lvl": 30}]}, "mark": {"type": "rule", "stroke": "#2222b0", "strokeWidth": 1}, "encoding": {"y": {"field": "lvl", "type": "quantitative", "axis": {"title": null}}}},
   {"data": {"name": "rsi"}, "mark": {"type": "line", "stroke": "#000000", "strokeWidth": 1}, "encoding": {"x": {"field": "i", "type": "quantitative", "axis": null}, "y": {"field": "v", "type": "quantitative", "axis": {"title": null}}}},
   {"data": {"values": [{}]}, "mark": {"type": "rect", "fill": "#d4d4d4", "stroke": "#9a9a9a"}, "encoding": {"x": {"datum": -0.2, "axis": null}, "x2": {"datum": 11.1}, "y": {"datum": 99.56, "axis": {"title": null}}, "y2": {"datum": 66.9}}},
   {"data": {"values": [{}]}, "mark": {"type": "text", "fontSize": 10.5, "color": "#000000", "baseline": "middle"}, "encoding": {"x": {"datum": 5.45, "axis": null}, "y": {"datum": 82.4, "axis": {"title": null}}, "text": {"value": "RSI (14)"}}},
   {"data": {"values": [{}]}, "mark": {"type": "rect", "fill": "#f4f4f4", "stroke": "#9a9a9a"}, "encoding": {"x": {"datum": 192.6, "axis": null}, "x2": {"datum": 201.3}, "y": {"datum": 64.7, "axis": {"title": null}}, "y2": {"datum": 37.3}}},
   {"data": {"values": [{}]}, "mark": {"type": "text", "fontSize": 11, "color": "#101010", "baseline": "middle"}, "encoding": {"x": {"datum": 196.95, "axis": null}, "y": {"datum": 51, "axis": {"title": null}}, "text": {"value": "50,994"}}}
  ]
 },
 {
  "width": 741, "height": 44,
  "layer": [
   {"data": {"values": [{}]}, "mark": {"type": "rule", "stroke": "#000000", "strokeWidth": 1.2},
    "encoding": {
     "x": {"datum": 0, "type": "quantitative", "scale": {"domain": [-0.2, 190.8], "nice": false, "zero": false},
      "axis": {"orient": "bottom", "values": [15, 36, 57, 76, 97, 118, 139, 160, 182], "title": null, "tickColor": "#606060", "labelColor": "#000000", "labelPadding": 4,
       "labelExpr": "datum.value == 15 ? 'dic' : datum.value == 36 ? '2014' : datum.value == 57 ? 'feb' : datum.value == 76 ? 'mar' : datum.value == 97 ? 'abr' : datum.value == 118 ? 'may' : datum.value == 139 ? 'jun' : datum.value == 160 ? 'jul' : 'ago'",
       "labelFontWeight": {"condition": {"test": "datum.value == 36", "value": "bold"}, "value": "normal"},
       "labelFontSize": {"condition": {"test": "datum.value == 36", "value": 14}, "value": 12}}},
     "x2": {"datum": 172},
     "y": {"datum": 0, "type": "quantitative", "scale": {"domain": [-0.57, 0.75], "nice": false, "zero": false}, "axis": null}}},
   {"data": {"name": "fungi_blue"}, "mark": {"type": "line", "stroke": "#0000ff", "strokeWidth": 1.2, "interpolate": "monotone", "clip": true}, "encoding": {"x": {"field": "i", "type": "quantitative", "axis": {"title": null}}, "y": {"field": "v", "type": "quantitative", "axis": null}}},
   {"data": {"name": "fungi_red"}, "mark": {"type": "line", "stroke": "#ff0000", "strokeWidth": 1.2, "clip": true}, "encoding": {"x": {"field": "i", "type": "quantitative", "axis": {"title": null}}, "y": {"field": "v", "type": "quantitative", "axis": null}}},
   {"data": {"values": [{}]}, "mark": {"type": "rect", "fill": "#d4d4d4", "stroke": "#9a9a9a"}, "encoding": {"x": {"datum": -0.2, "axis": {"title": null}}, "x2": {"datum": 19.7}, "y": {"datum": 0.679, "axis": null}, "y2": {"datum": 0.27}}},
   {"data": {"values": [{}]}, "mark": {"type": "rect", "fill": "#d4d4d4", "stroke": "#9a9a9a"}, "encoding": {"x": {"datum": 20.0, "axis": {"title": null}}, "x2": {"datum": 41.2}, "y": {"datum": 0.679, "axis": null}, "y2": {"datum": 0.27}}},
   {"data": {"values": [{}]}, "mark": {"type": "rect", "fill": "#d4d4d4", "stroke": "#9a9a9a"}, "encoding": {"x": {"datum": 41.5, "axis": {"title": null}}, "x2": {"datum": 73.8}, "y": {"datum": 0.679, "axis": null}, "y2": {"datum": 0.27}}},
   {"data": {"values": [{}]}, "mark": {"type": "text", "fontSize": 10.5, "color": "#000000", "baseline": "middle"}, "encoding": {"x": {"datum": 9.75, "axis": {"title": null}}, "y": {"datum": 0.47, "axis": null}, "text": {"value": "SYSTEMFUNGI"}}},
   {"data": {"values": [{}]}, "mark": {"type": "text", "fontSize": 10.5, "color": "#ff0000", "baseline": "middle"}, "encoding": {"x": {"datum": 30.6, "axis": {"title": null}}, "y": {"datum": 0.47, "axis": null}, "text": {"value": "SYSTEMFUNGI2"}}},
   {"data": {"values": [{}]}, "mark": {"type": "text", "fontSize": 10.5, "color": "#0000ee", "baseline": "middle"}, "encoding": {"x": {"datum": 57.65, "axis": {"title": null}}, "y": {"datum": 0.47, "axis": null}, "text": {"value": "SYSTEMFUNGI3 (40 100)"}}},
   {"data": {"values": [{}]}, "mark": {"type": "rect", "fill": "#f4f4f4", "stroke": "#9a9a9a"}, "encoding": {"x": {"datum": 192.6, "axis": {"title": null}}, "x2": {"datum": 202.6}, "y": {"datum": 0.30, "axis": null}, "y2": {"datum": -0.08}}},
   {"data": {"values": [{}]}, "mark": {"type": "text", "fontSize": 10.5, "color": "#ff0000", "align": "left", "baseline": "middle"}, "encoding": {"x": {"datum": 194.5, "axis": {"title": null}}, "y": {"datum": 0.11, "axis": null}, "text": {"value": "0,0065"}}},
   {"data": {"values": [{}]}, "mark": {"type": "rect", "fill": "#f4f4f4", "stroke": "#9a9a9a"}, "encoding": {"x": {"datum": 192.6, "axis": {"title": null}}, "x2": {"datum": 194.4}, "y": {"datum": 0.12, "axis": null}, "y2": {"datum": -0.20}}},
   {"data": {"values": [{}]}, "mark": {"type": "text", "fontSize": 12, "color": "#000000", "baseline": "middle"}, "encoding": {"x": {"datum": 193.5, "axis": {"title": null}}, "y": {"datum": -0.04, "axis": null}, "text": {"value": "0"}}}
  ]
 }
]
}
